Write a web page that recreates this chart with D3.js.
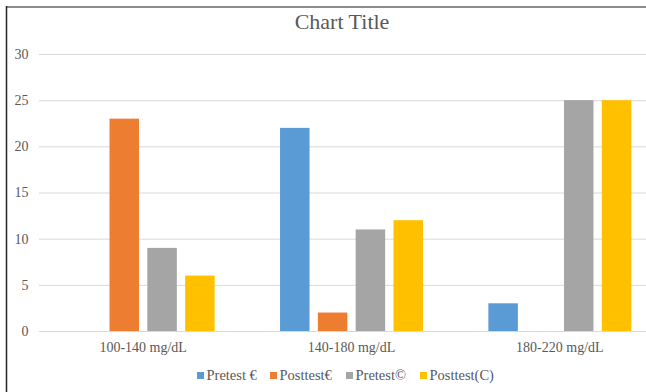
<!DOCTYPE html>
<html>
<head>
<meta charset="utf-8">
<script src="https://cdn.jsdelivr.net/npm/d3@7"></script>
<style>
  html, body { margin: 0; padding: 0; background: #fff; }
  svg { display: block; }
</style>
</head>
<body>
<svg id="chart" width="646" height="392"></svg>
<script>
// Glucose bands and the four test series
const categories = ["100-140 mg/dL", "140-180 mg/dL", "180-220 mg/dL"];
const seriesNames = ["Pretest €", "Posttest€", "Pretest©", "Posttest(C)"];
const pretestE = [0, 22, 3];
const posttestE = [23, 2, 0];
const pretestC = [9, 11, 25];
const posttestC = [6, 12, 25];
const yTicks = [0, 5, 10, 15, 20, 25, 30];
const colors = ["#5B9BD5", "#ED7D31", "#A5A5A5", "#FFC000"];

const seriesValues = [pretestE, posttestE, pretestC, posttestC];

const svg = d3.select("#chart");
const font = "'Liberation Serif', 'Times New Roman', serif";
const textColor = "#595959";

// Plot area
const plot = { left: 39, right: 664, top: 54, bottom: 331 };

const x0 = d3.scaleBand().domain(categories).range([plot.left, plot.right]).paddingInner(0).paddingOuter(0);
const x1 = d3.scaleBand().domain(d3.range(seriesNames.length))
  .range([32.7, x0.bandwidth() - 32.7]).paddingInner(0.22).paddingOuter(0);
const y = d3.scaleLinear().domain([0, 30]).range([plot.bottom, plot.top]);

// Chart frame edges
svg.append("line").attr("x1", 6).attr("x2", 646).attr("y1", 7).attr("y2", 7)
  .attr("stroke", "#8c8c8c").attr("stroke-width", 2);
svg.append("line").attr("x1", 6.5).attr("x2", 6.5).attr("y1", 6).attr("y2", 392)
  .attr("stroke", "#262626").attr("stroke-width", 1.5);

// Title
svg.append("text").attr("x", 342).attr("y", 29)
  .attr("text-anchor", "middle").attr("font-family", font).attr("font-size", 22)
  .attr("fill", textColor).text("Chart Title");

// Horizontal gridlines
const yAxis = d3.axisLeft(y).tickValues(yTicks).tickSize(-(plot.right - plot.left)).tickPadding(12);
const gy = svg.append("g").attr("transform", `translate(${plot.left},0)`).call(yAxis);
gy.select(".domain").remove();
gy.selectAll(".tick line").attr("stroke", "#d9d9d9").attr("stroke-width", 1);
gy.selectAll(".tick text").attr("font-family", font).attr("font-size", 14).attr("fill", textColor)
  .attr("dx", 1.5);

// Bars
const groups = svg.append("g").selectAll("g").data(categories).join("g")
  .attr("transform", d => `translate(${x0(d)},0)`);
groups.selectAll("rect")
  .data((c, ci) => seriesValues.map((vals, si) => ({ si, v: vals[ci] })))
  .join("rect")
  .attr("x", d => x1(d.si))
  .attr("width", x1.bandwidth())
  .attr("y", d => y(d.v))
  .attr("height", d => y(0) - y(d.v))
  .attr("fill", d => colors[d.si]);

// Category axis
const xAxis = d3.axisBottom(x0).tickSize(0).tickPadding(11);
const gx = svg.append("g").attr("transform", `translate(0,${plot.bottom})`).call(xAxis);
gx.select(".domain").attr("stroke", "#d9d9d9");
gx.selectAll(".tick text").attr("font-family", font).attr("font-size", 14).attr("fill", textColor);

// Legend
const legendX = [197, 270, 346, 420];
const legend = svg.append("g").selectAll("g").data(seriesNames).join("g")
  .attr("transform", (d, i) => `translate(${legendX[i]},380)`);
legend.append("rect").attr("x", 0).attr("y", -8).attr("width", 7).attr("height", 7)
  .attr("fill", (d, i) => colors[i]);
legend.append("text").attr("x", 9.5).attr("y", 0)
  .attr("font-family", font).attr("font-size", 14.5).attr("fill", textColor)
  .text(d => d);
</script>
</body>
</html>
